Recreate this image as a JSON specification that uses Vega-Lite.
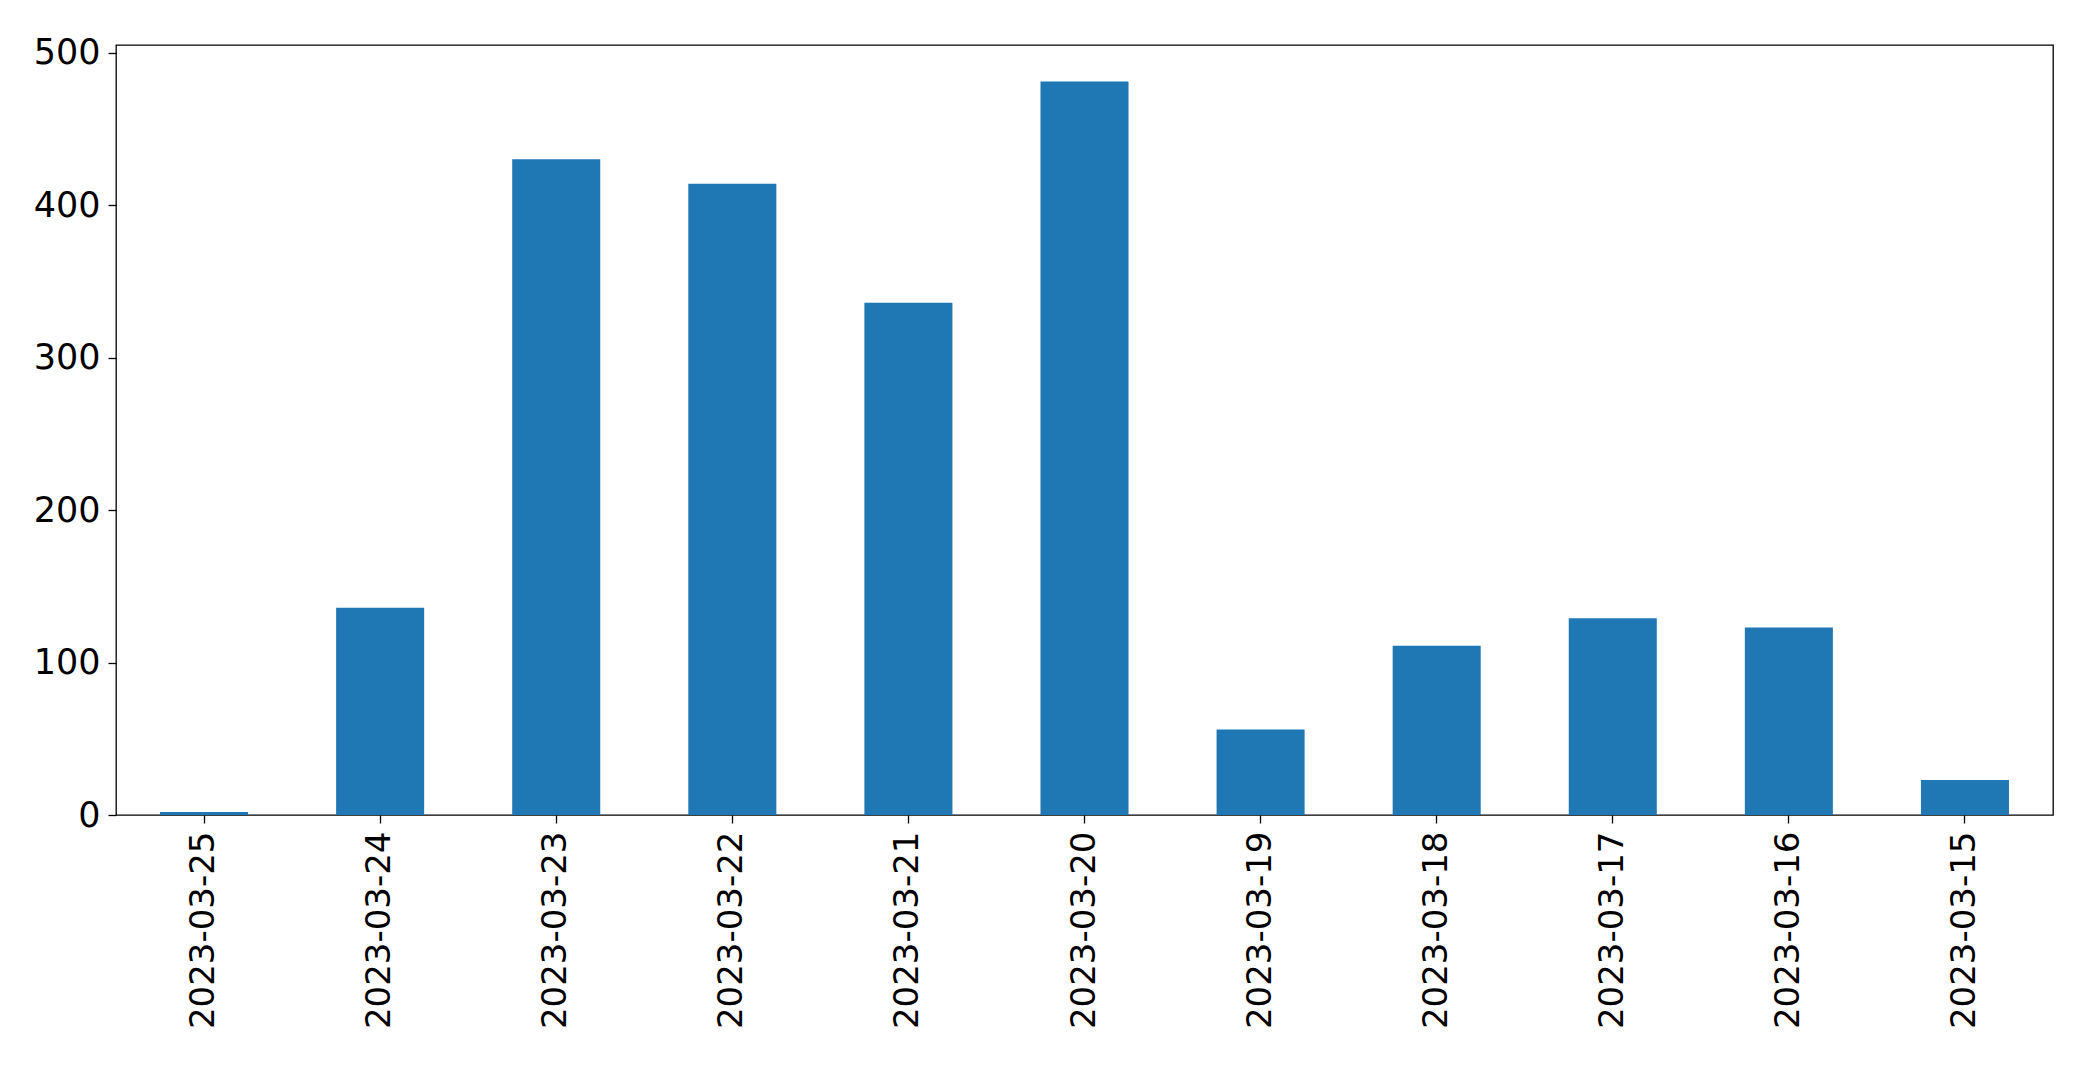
{
  "$schema": "https://vega.github.io/schema/vega-lite/v6.json",
  "width": 1937,
  "height": 770,
  "autosize": {"type": "none"},
  "padding": {"left": 116, "top": 45, "right": 40, "bottom": 252},
  "background": "white",
  "config": {
    "view": {"stroke": "black", "strokeWidth": 1.3},
    "font": "DejaVu Sans",
    "axis": {"grid": false, "domain": false, "tickColor": "black", "tickSize": 8, "tickWidth": 1.3, "labelColor": "black", "labelFont": "DejaVu Sans", "labelFontSize": 35, "labelPadding": 8, "labelLimit": 1000}
  },
  "data": {
    "values": [
      {"date": "2023-03-25", "count": 2},
      {"date": "2023-03-24", "count": 136},
      {"date": "2023-03-23", "count": 430},
      {"date": "2023-03-22", "count": 414},
      {"date": "2023-03-21", "count": 336},
      {"date": "2023-03-20", "count": 481},
      {"date": "2023-03-19", "count": 56},
      {"date": "2023-03-18", "count": 111},
      {"date": "2023-03-17", "count": 129},
      {"date": "2023-03-16", "count": 123},
      {"date": "2023-03-15", "count": 23}
    ]
  },
  "mark": {"type": "bar", "color": "#1f77b4"},
  "encoding": {
    "x": {
      "field": "date",
      "type": "nominal",
      "sort": null,
      "title": null,
      "scale": {"paddingInner": 0.5, "paddingOuter": 0.25},
      "axis": {"labelAngle": -90, "labelAlign": "right", "labelBaseline": "middle", "labelFontSize": 34}
    },
    "y": {
      "field": "count",
      "type": "quantitative",
      "title": null,
      "scale": {"domain": [0, 505], "nice": false, "zero": true},
      "axis": {"values": [0, 100, 200, 300, 400, 500]}
    }
  }
}
